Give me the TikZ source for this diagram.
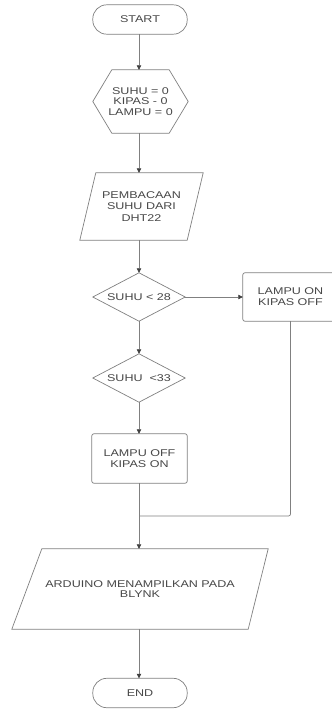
\documentclass[tikz,border=0pt]{standalone}
\usepackage{fontspec}
\setmainfont{Liberation Sans}[FakeStretch=1.28]
\usetikzlibrary{arrows.meta,calc}
\begin{document}
\begin{tikzpicture}[x=1pt,y=-1pt,
  line/.style={draw=black!50, line width=0.7pt},
  arr/.style={line, -{Triangle[length=4.5pt,width=4.5pt,color=black!75]}},
  box/.style={rectangle, inner sep=0pt, align=center, text=black!72,
              font=\fontsize{9.8}{10.8}\selectfont},
]
\clip (0,0) rectangle (332,710);
\fill[white] (0,0) rectangle (332,710);
\coordinate (axis) at (139,0);

% nodes
\node[box, minimum width=94pt, minimum height=29pt] (start) at (140,19.5) {START};
\draw[line, rounded corners=14pt] (start.south west) rectangle (start.north east);

\node[box, minimum width=95pt, minimum height=63pt] (init) at (140.5,101.5) {SUHU = 0\\KIPAS - 0\\LAMPU = 0};
\draw[line] (init.west) -- ([xshift=19pt]init.north west) -- ([xshift=-19pt]init.north east)
  -- (init.east) -- ([xshift=-19pt]init.south east) -- ([xshift=19pt]init.south west) -- cycle;

\node[box, minimum width=123pt, minimum height=67pt, font=\fontsize{9.8}{11.5}\selectfont] (read) at (141.5,206.5) {PEMBACAAN\\SUHU DARI\\DHT22};
\draw[line] (read.south west) -- ([xshift=16pt]read.north west) -- (read.north east)
  -- ([xshift=-16pt]read.south east) -- cycle;

\node[box, minimum width=92pt, minimum height=48pt] (d1) at (139,297) {SUHU {<} 28};
\draw[line] (d1.west) -- (d1.north) -- (d1.east) -- (d1.south) -- cycle;

\node[box, minimum width=95pt, minimum height=48pt] (on) at (290.5,297) {LAMPU ON\\KIPAS OFF};
\draw[line, rounded corners=2pt] (on.south west) rectangle (on.north east);

\node[box, minimum width=92pt, minimum height=48pt] (d2) at (139,378) {SUHU\ \ {<}33};
\draw[line] (d2.west) -- (d2.north) -- (d2.east) -- (d2.south) -- cycle;

\node[box, minimum width=95pt, minimum height=49pt] (off) at (139.5,458.5) {LAMPU OFF\\KIPAS ON};
\draw[line, rounded corners=2pt] (off.south west) rectangle (off.north east);

\node[box, minimum width=256pt, minimum height=80pt] (out) at (140,589) {ARDUINO MENAMPILKAN PADA\\BLYNK};
\draw[line] ([xshift=30pt]out.north west) -- (out.north east)
  -- ([xshift=-20pt]out.south east) -- (out.south west) -- cycle;

\node[box, minimum width=94pt, minimum height=29pt] (end) at (140,693) {END};
\draw[line, rounded corners=14pt] (end.south west) rectangle (end.north east);

\coordinate (j) at (139,516);

% connectors
\draw[arr] (start.south -| axis) -- (init.north -| axis);
\draw[arr] (init.south -| axis) -- (read.north -| axis);
\draw[arr] (read.south -| axis) -- (d1.north -| axis);
\draw[arr] (d1.east) -- (on.west);
\draw[arr] (d1.south -| axis) -- (d2.north -| axis);
\draw[arr] (d2.south -| axis) -- (off.north -| axis);
\draw[line, rounded corners=2pt] (on.south) |- (j);
\draw[arr] (off.south -| axis) -- (out.north -| axis);
\draw[arr] (out.south -| axis) -- (end.north -| axis);
\end{tikzpicture}
\end{document}
